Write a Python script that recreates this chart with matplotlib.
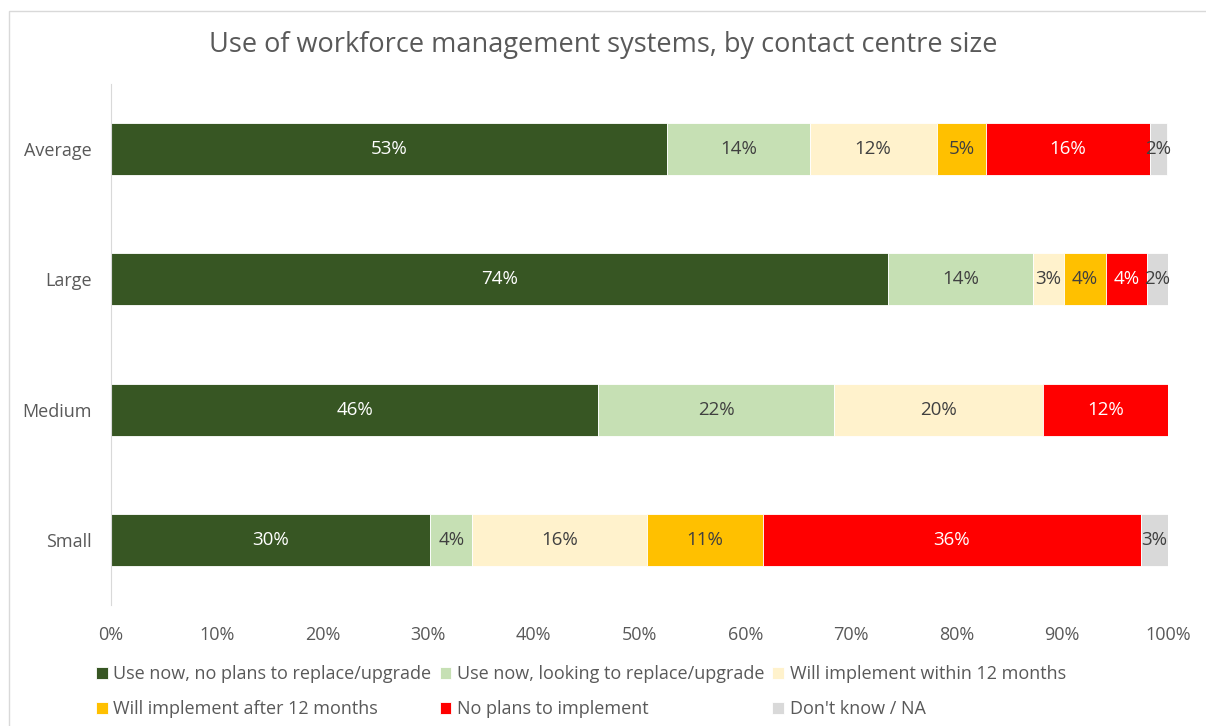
import matplotlib.pyplot as plt
from matplotlib.patches import Rectangle
from matplotlib.ticker import PercentFormatter

plt.rcParams['font.family'] = ['Open Sans', 'DejaVu Sans']

# Categories, bottom to top
sizes = ['Small', 'Medium', 'Large', 'Average']

series = [
    'Use now, no plans to replace/upgrade',
    'Use now, looking to replace/upgrade',
    'Will implement within 12 months',
    'Will implement after 12 months',
    'No plans to implement',
    "Don't know / NA",
]

# percent values per series, order: Small, Medium, Large, Average
use_no_plans = [30.2, 46.1, 73.5, 52.6]
use_replace = [4.0, 22.3, 13.7, 13.5]
within_12m = [16.5, 19.8, 3.0, 12.0]
after_12m = [11.0, 0.0, 3.9, 4.7]
no_plans = [35.7, 11.8, 3.9, 15.5]
dont_know = [2.6, 0.0, 2.0, 1.6]

values = [use_no_plans, use_replace, within_12m, after_12m, no_plans, dont_know]
colors = ['#375623', '#c6e0b4', '#fff2cc', '#ffc000', '#ff0000', '#d9d9d9']
label_colors = ['white', '#404040', '#404040', '#404040', 'white', '#404040']

grey = '#595959'

fig = plt.figure(figsize=(12.06, 7.26), dpi=100)
fig.patches.append(Rectangle((9 / 1206, -0.1), 1.2, 1 - 11 / 726 + 0.1,
                             transform=fig.transFigure, fill=False,
                             edgecolor='#d9d9d9', linewidth=1))

ax = fig.add_axes([111 / 1206, 1 - 605 / 726, 1057 / 1206, 521 / 726])

left = [0.0] * len(sizes)
handles = []
for vals, col, lcol, name in zip(values, colors, label_colors, series):
    bars = ax.barh(sizes, vals, left=left, height=0.4, color=col,
                   edgecolor='white', linewidth=0.6, label=name)
    handles.append(bars)
    for i, v in enumerate(vals):
        if v > 0:
            ax.text(left[i] + v / 2, i, f'{v:.0f}%', ha='center', va='center',
                    color=lcol, fontsize=13.5)
    left = [a + b for a, b in zip(left, vals)]

ax.set_xlim(0, 100)
ax.set_ylim(-0.5, 3.5)
ax.set_xticks(range(0, 101, 10))
ax.xaxis.set_major_formatter(PercentFormatter(decimals=0))
for s in ['top', 'right', 'bottom']:
    ax.spines[s].set_visible(False)
ax.spines['left'].set_color('#d9d9d9')
ax.tick_params(axis='both', length=0, colors=grey, labelsize=13)
ax.tick_params(axis='x', pad=15)
ax.tick_params(axis='y', pad=14)

fig.text(0.5, 1 - 45 / 726, 'Use of workforce management systems, by contact centre size',
         ha='center', va='center', fontsize=19.5, color=grey)

# legend is filled row by row in the reference
order = [0, 3, 1, 4, 2, 5]
fig.legend([handles[i] for i in order], [series[i] for i in order],
           loc='lower left', bbox_to_anchor=(80 / 1206, -0.012), ncol=3,
           frameon=False, fontsize=13, labelcolor=grey,
           handlelength=0.65, handleheight=0.65, handletextpad=0.3,
           columnspacing=0.45, labelspacing=0.95)

fig.savefig('out.png', dpi=100)
